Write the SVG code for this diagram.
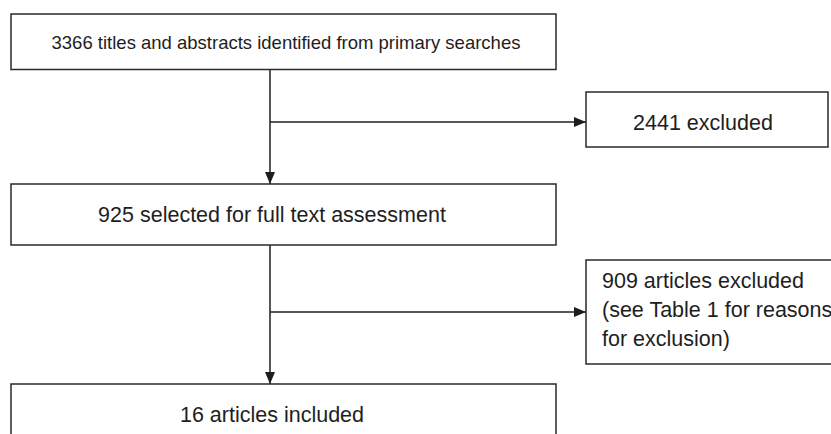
<svg xmlns="http://www.w3.org/2000/svg" width="831" height="434" viewBox="0 0 831 434">
<style>
.box{fill:#fff;stroke:#2a2a2a;stroke-width:1.5}
.t{font-family:"Liberation Sans",Arial,sans-serif;fill:#1e1e1e}
.c{stroke:#1e1e1e;stroke-width:1.5;fill:none}
</style>
<defs>
<marker id="ah" viewBox="0 0 12 10" refX="12" refY="5" markerWidth="12" markerHeight="10" markerUnits="userSpaceOnUse" orient="auto">
<path d="M0,0 L12,5 L0,10 z" fill="#1e1e1e"/>
</marker>
</defs>
<rect width="831" height="434" fill="#fff"/>
<g id="connectors">
<line class="c" x1="270" y1="69.5" x2="270" y2="184" marker-end="url(#ah)"/>
<line class="c" x1="270" y1="122" x2="586" y2="122" marker-end="url(#ah)"/>
<line class="c" x1="270" y1="245" x2="270" y2="384" marker-end="url(#ah)"/>
<line class="c" x1="270" y1="312" x2="586" y2="312" marker-end="url(#ah)"/>
</g>
<g id="node-identified">
<rect class="box" x="11" y="14" width="545" height="55.5"/>
<text class="t" x="286" y="48.5" font-size="18.5" text-anchor="middle">3366 titles and abstracts identified from primary searches</text>
</g>
<g id="node-excluded1">
<rect class="box" x="586" y="92" width="242" height="55"/>
<text class="t" x="703" y="130" font-size="21.5" text-anchor="middle">2441 excluded</text>
</g>
<g id="node-selected">
<rect class="box" x="11" y="184" width="545" height="61"/>
<text class="t" x="272" y="222" font-size="21.5" text-anchor="middle">925 selected for full text assessment</text>
</g>
<g id="node-excluded2">
<rect class="box" x="586" y="260" width="300" height="104"/>
<text class="t" font-size="21.5"><tspan x="602" y="288">909 articles excluded</tspan><tspan x="602" y="317">(see Table 1 for reasons</tspan><tspan x="602" y="346">for exclusion)</tspan></text>
</g>
<g id="node-included">
<rect class="box" x="11" y="384" width="545" height="70"/>
<text class="t" x="272" y="421.5" font-size="21.5" text-anchor="middle">16 articles included</text>
</g>
</svg>
